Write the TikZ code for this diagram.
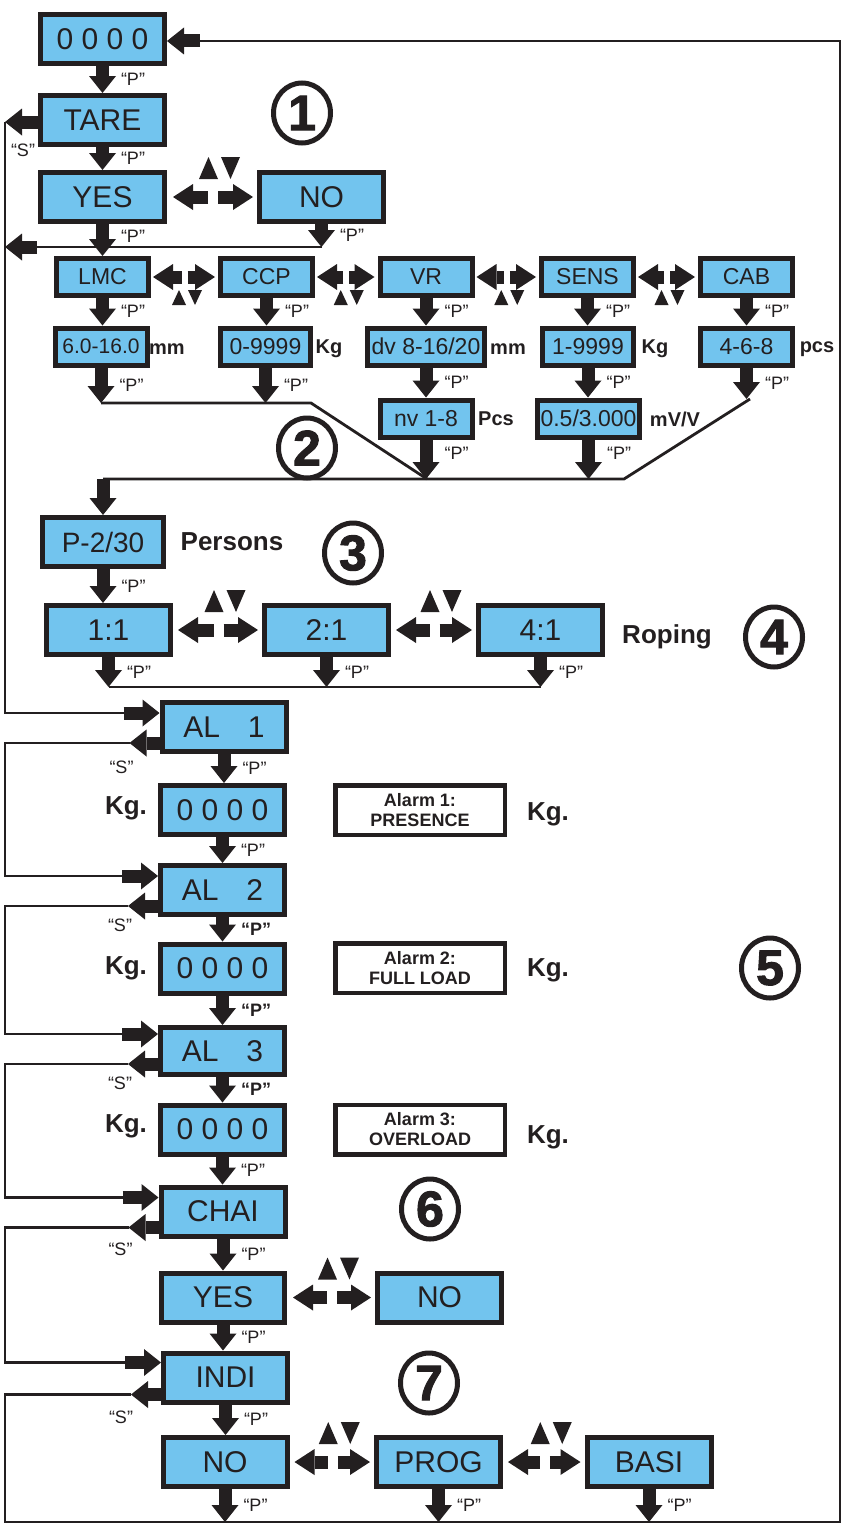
\documentclass[tikz,border=0pt]{standalone}
\usepackage{fontspec}
\setmainfont{Liberation Sans}
\newfontfamily\numfont[BoldFeatures={FakeBold=2}]{Liberation Sans}
\usepackage{tikz}
\usetikzlibrary{positioning}
\usetikzlibrary{shapes.geometric}
\usetikzlibrary{arrows.meta}
\usetikzlibrary{calc}
\definecolor{ink}{RGB}{35,31,32}
\definecolor{lcdblue}{RGB}{114,196,238}

\begin{document}
\begin{tikzpicture}[
        x = 1pt,
        y = -1pt,
        lcd/.style = {
            draw = ink,
            line width = 5pt,
            fill = lcdblue,
            text = ink,
            font = \fontsize{30}{30}\selectfont,
            minimum width = #1,
            minimum height = 49pt,
            inner sep = 0pt
        },
        lcd/.default = 124pt,
        lcdsmall/.style = {
            lcd = #1,
            minimum height = 37pt,
            font = \fontsize{23}{23}\selectfont
        },
        lcdsmall/.default = 92pt,
        alarm/.style = {
            draw = ink,
            line width = 4.5pt,
            fill = white,
            text = ink,
            align = center,
            font = \bfseries\fontsize{18}{20}\selectfont,
            minimum width = 169.5pt,
            minimum height = 49.5pt,
            inner sep = 0pt
        },
        unitlab/.style = {text = ink, font = \bfseries\fontsize{20}{20}\selectfont},
        boldlab/.style = {text = ink, font = \bfseries\fontsize{26}{26}\selectfont},
        plab/.style = {text = ink, font = \fontsize{18}{18}\selectfont, anchor = west, xshift = 12pt, inner sep = 0pt},
        slab/.style = {text = ink, font = \fontsize{18}{18}\selectfont, inner sep = 0pt},
        num/.style = {
            draw = ink,
            ellipse,
            line width = 5pt,
            minimum width = 57pt,
            minimum height = 60pt,
            inner sep = 0pt,
            text = ink,
            font = \numfont\bfseries\fontsize{50}{50}\selectfont
        },
        blk/.style = {draw = ink, line width = 13pt, -{Triangle[width = 27pt, length = 17pt, line width = 0pt]}},
        swp/.style = {blk, -{Triangle[width = 26pt, length = 20pt, line width = 0pt]}},
        wire/.style = {draw = ink, line width = 2.8pt},
        updown/.pic = {
            \fill[ink] (-13,-18) -- (-3.5,-40) -- (6,-18) -- cycle;
            \fill[ink] (9,-40) -- (28,-40) -- (18.5,-18) -- cycle;
        },
        updownlow/.pic = {
            \fill[ink] (-12.5,28) -- (-5.5,13) -- (1.5,28) -- cycle;
            \fill[ink] (3.5,13) -- (17.5,13) -- (10.5,28) -- cycle;
        }
        ]
        \useasboundingbox (0,0) rectangle (843,1528);
%
% 1: tare
        \node[lcd] (zero) at (102.5,39.5) {0 0 0 0};
        \node[lcd] (tare) at (102.5,120) {TARE};
        \node[lcd] (yes1) at (102.5,197) {YES};
        \node[lcd, right=90pt of yes1] (no1) {NO};
        \node[num] (n1) at (302,113) {1};
%
% 2: lmc ... cab
        \node[lcdsmall] (lmc) at (102.5,277) {LMC};
        \node[lcdsmall] (ccp) at (266.5,277) {CCP};
        \node[lcdsmall] (vr) at (426,277) {VR};
        \node[lcdsmall] (sens) at (587.5,277) {SENS};
        \node[lcdsmall] (cab) at (746.5,277) {CAB};
%
        \node[lcdsmall, font=\fontsize{21}{21}\selectfont] (v1) at (101,346.5) {6.0-16.0};
        \node[lcdsmall=90pt] (v2) at (265.5,346.5) {0-9999};
        \node[lcdsmall=117pt] (v3) at (426,346.5) {dv 8-16/20};
        \node[lcdsmall=91pt] (v4) at (588,346.5) {1-9999};
        \node[lcdsmall] (v5) at (746.5,346.5) {4-6-8};
        \node[lcdsmall] (nv) at (426,418.5) {nv 1-8};
        \node[lcdsmall=102pt] (mv) at (588.5,418.5) {0.5/3.000};
%
        \node[unitlab] (u1) at (167,349) {mm};
        \node[unitlab] (u2) at (329,349) {Kg};
        \node[unitlab] (u3) at (508,349) {mm};
        \node[unitlab] (u4) at (655,349) {Kg};
        \node[unitlab] (u5) at (817,349) {pcs};
        \node[unitlab] (u6) at (496,419) {Pcs};
        \node[unitlab] (u7) at (675,419) {mV/V};
        \node[num] (n2) at (307,448) {2};
%
% 3 and 4: persons, roping
        \node[lcd=121pt, font=\fontsize{28}{28}\selectfont] (pers) at (103,542) {P-2/30};
        \node[boldlab] (perslab) at (232,542) {Persons};
        \node[num] (n3) at (353,553) {3};
        \node[lcd] (r11) at (108.5,630) {1:1};
        \node[lcd, right=89pt of r11] (r21) {2:1};
        \node[lcd, right=85pt of r21] (r41) {4:1};
        \node[boldlab] (roplab) at (667,637) {Roping};
        \node[num] (n4) at (774,637) {4};
%
% 5: alarms
        \node[lcd] (al1) at (224,727) {AL\hspace{28pt}1};
        \node[lcd] (kg1) at (222.5,810) {0 0 0 0};
        \node[lcd] (al2) at (222.5,890) {AL\hspace{28pt}2};
        \node[lcd] (kg2) at (222.5,968.5) {0 0 0 0};
        \node[lcd, minimum height=47pt] (al3) at (222.5,1051) {AL\hspace{28pt}3};
        \node[lcd] (kg3) at (222.5,1129.5) {0 0 0 0};
%
        \node[alarm] (am1) at (420,810) {Alarm 1:\\PRESENCE};
        \node[alarm] (am2) at (420,968) {Alarm 2:\\FULL LOAD};
        \node[alarm] (am3) at (420,1129.5) {Alarm 3:\\OVERLOAD};
%
        \node[boldlab] (kgl1) at (126,808) {Kg.};
        \node[boldlab] (kgl2) at (126,968) {Kg.};
        \node[boldlab] (kgl3) at (126,1126) {Kg.};
        \node[boldlab] (kgr1) at (548,814) {Kg.};
        \node[boldlab] (kgr2) at (548,970) {Kg.};
        \node[boldlab] (kgr3) at (548,1137) {Kg.};
        \node[num] (n5) at (770,968) {5};
%
% 6: chain
        \node[lcd] (chai) at (223,1211.5) {CHAI};
        \node[num] (n6) at (430,1209) {6};
        \node[lcd=123pt] (yes2) at (223,1297.5) {YES};
        \node[lcd, right=88pt of yes2] (no2) {NO};
%
% 7: indicator
        \node[lcd] (indi) at (225.5,1377.5) {INDI};
        \node[num] (n7) at (429,1383) {7};
        \node[lcd] (no3) at (225,1462) {NO};
        \node[lcd, right=84.5pt of no3] (prog) {PROG};
        \node[lcd, right=81.5pt of prog] (basi) {BASI};
%
        \coordinate (ne) at (840,41);
        \coordinate (se) at (840,1522);
        \coordinate (sw) at (5,1522);
        \coordinate (top) at (200,41);
        \coordinate (j1) at (322,247);
        \coordinate (k1) at (311,403);
        \coordinate (k2) at (427,479);
        \coordinate (k3) at (624,479);
        \coordinate (k4) at (750,399);
        \coordinate (k5) at (108,687);
%
% "P" arrows
        \draw[blk] (zero.south) -- (zero.south |- tare.north) node[plab, midway] (p1) {“P”};
        \draw[blk] (tare.south) -- (tare.south |- yes1.north) node[plab, midway] (p2) {“P”};
        \draw[blk] (yes1.south) -- (yes1.south |- lmc.north) node[plab, pos=0.4] (p3) {“P”};
        \draw[blk] (no1.south) -- (no1.south |- j1) node[plab, midway] (p4) {“P”};
%
        \draw[blk] (lmc.south) -- (lmc.south |- v1.north) node[plab, midway] (p5) {“P”};
        \draw[blk] (ccp.south) -- (ccp.south |- v2.north) node[plab, midway] (p6) {“P”};
        \draw[blk] (vr.south) -- (vr.south |- v3.north) node[plab, midway] (p7) {“P”};
        \draw[blk] (sens.south) -- (sens.south |- v4.north) node[plab, midway] (p8) {“P”};
        \draw[blk] (cab.south) -- (cab.south |- v5.north) node[plab, midway] (p9) {“P”};
%
        \draw[blk] (v1.south) -- (v1.south |- k1) node[plab, midway] (p10) {“P”};
        \draw[blk] (v2.south) -- (v2.south |- k1) node[plab, midway] (p11) {“P”};
        \draw[blk] (v3.south) -- (v3.south |- nv.north) node[plab, midway] (p12) {“P”};
        \draw[blk] (v4.south) -- (v4.south |- mv.north) node[plab, midway] (p13) {“P”};
        \draw[blk] (v5.south) -- (v5.south |- k4) node[plab, midway] (p14) {“P”};
        \draw[blk] (nv.south) -- (nv.south |- k2) node[plab, pos=0.35] (p15) {“P”};
        \draw[blk] (mv.south) -- (mv.south |- k2) node[plab, pos=0.35] (p16) {“P”};
%
        \draw[wire] (v1.south |- k1) -- (k1) -- (k2);
        \draw[wire] (k4) -- (k3) -- (pers.north |- k3);
        \draw[blk] (pers.north |- k3) -- (pers.north);
%
        \draw[blk] (pers.south) -- (pers.south |- r11.north) node[plab, midway] (p17) {“P”};
        \draw[blk] (r11.south) -- (r11.south |- k5) node[plab, midway] (p18) {“P”};
        \draw[blk] (r21.south) -- (r21.south |- k5) node[plab, midway] (p19) {“P”};
        \draw[blk] (r41.south) -- (r41.south |- k5) node[plab, midway] (p20) {“P”};
        \draw[wire] (r11.south |- k5) -- (r41.south |- k5);
%
        \draw[blk] (al1.south) -- (al1.south |- kg1.north) node[plab, midway] (p21) {“P”};
        \draw[blk] (kg1.south) -- (kg1.south |- al2.north) node[plab, midway] (p22) {“P”};
        \draw[blk] (al2.south) -- (al2.south |- kg2.north) node[plab, midway, font=\bfseries\fontsize{18}{18}\selectfont] (p23) {“P”};
        \draw[blk] (kg2.south) -- (kg2.south |- al3.north) node[plab, midway, font=\bfseries\fontsize{18}{18}\selectfont] (p24) {“P”};
        \draw[blk] (al3.south) -- (al3.south |- kg3.north) node[plab, midway, font=\bfseries\fontsize{18}{18}\selectfont] (p25) {“P”};
        \draw[blk] (kg3.south) -- (kg3.south |- chai.north) node[plab, midway] (p26) {“P”};
        \draw[blk] (chai.south) -- (chai.south |- yes2.north) node[plab, midway] (p27) {“P”};
        \draw[blk] (yes2.south) -- (yes2.south |- indi.north) node[plab, midway] (p28) {“P”};
        \draw[blk] (indi.south) -- (indi.south |- no3.north) node[plab, midway] (p29) {“P”};
        \draw[blk] (no3.south) -- (no3.south |- sw) node[plab, midway] (p30) {“P”};
        \draw[blk] (prog.south) -- (prog.south |- sw) node[plab, midway] (p31) {“P”};
        \draw[blk] (basi.south) -- (basi.south |- sw) node[plab, midway] (p32) {“P”};
%
% up / down keys
        \coordinate (m1) at ($(yes1.east)!0.5!(no1.west)$);
        \draw[swp] ([xshift=-4pt]m1) -- ([xshift=6pt]yes1.east);
        \draw[swp] ([xshift=6pt]m1) -- ([xshift=-4pt]no1.west);
        \pic at (m1) {updown};
%
        \coordinate (m2) at ($(lmc.east)!0.5!(ccp.west)$);
        \draw[swp] ([xshift=-3pt]m2) -- ([xshift=2pt]lmc.east);
        \draw[swp] ([xshift=3pt]m2) -- ([xshift=-3pt]ccp.west);
        \pic at (m2) {updownlow};
        \coordinate (m3) at ($(ccp.east)!0.5!(vr.west)$);
        \draw[swp] ([xshift=-3pt]m3) -- ([xshift=2pt]ccp.east);
        \draw[swp] ([xshift=3pt]m3) -- ([xshift=-3pt]vr.west);
        \pic at (m3) {updownlow};
        \coordinate (m4) at ($(vr.east)!0.5!(sens.west)$);
        \draw[swp] ([xshift=-3pt]m4) -- ([xshift=2pt]vr.east);
        \draw[swp] ([xshift=3pt]m4) -- ([xshift=-3pt]sens.west);
        \pic at (m4) {updownlow};
        \coordinate (m5) at ($(sens.east)!0.5!(cab.west)$);
        \draw[swp] ([xshift=-3pt]m5) -- ([xshift=2pt]sens.east);
        \draw[swp] ([xshift=3pt]m5) -- ([xshift=-3pt]cab.west);
        \pic at (m5) {updownlow};
%
        \coordinate (m6) at ($(r11.east)!0.5!(r21.west)$);
        \draw[swp] ([xshift=-4pt]m6) -- ([xshift=5pt]r11.east);
        \draw[swp] ([xshift=6pt]m6) -- ([xshift=-4pt]r21.west);
        \pic at (m6) {updown};
        \coordinate (m7) at ($(r21.east)!0.5!(r41.west)$);
        \draw[swp] ([xshift=-4pt]m7) -- ([xshift=5pt]r21.east);
        \draw[swp] ([xshift=6pt]m7) -- ([xshift=-4pt]r41.west);
        \pic at (m7) {updown};
%
        \coordinate (m8) at ($(yes2.east)!0.5!(no2.west)$);
        \draw[swp] ([xshift=-4pt]m8) -- ([xshift=6pt]yes2.east);
        \draw[swp] ([xshift=6pt]m8) -- ([xshift=-4pt]no2.west);
        \pic at (m8) {updown};
%
        \coordinate (m9) at ($(no3.east)!0.5!(prog.west)$);
        \draw[swp] ([xshift=-4pt]m9) -- ([xshift=5pt]no3.east);
        \draw[swp] ([xshift=6pt]m9) -- ([xshift=-4pt]prog.west);
        \pic at (m9) {updown};
        \coordinate (m10) at ($(prog.east)!0.5!(basi.west)$);
        \draw[swp] ([xshift=-4pt]m10) -- ([xshift=5pt]prog.east);
        \draw[swp] ([xshift=6pt]m10) -- ([xshift=-4pt]basi.west);
        \pic at (m10) {updown};
%
% "S" loops on the left
        \draw[blk] ([yshift=-2pt]tare.west) -- ++(-33,0) coordinate (ts);
        \node[slab] (s0) at ([xshift=-15pt,yshift=-30pt]tare.west) {“S”};
        \draw[wire] (j1) -- ($(ts |- j1)+(30,0)$);
        \draw[blk] ($(ts |- j1)+(32,0)$) -- (ts |- j1);
        \coordinate (in1) at ([xshift=-36pt,yshift=14pt]al1.west);
        \draw[wire] (ts) -- (ts |- in1) -- (in1);
        \draw[blk] (in1) -- ([yshift=14pt]al1.west);
%
        \draw[blk] ([yshift=-16pt]al1.west) -- ++(-30,0) coordinate (o1);
        \node[slab] (s1) at ([xshift=-38pt,yshift=-40pt]al1.west) {“S”};
        \coordinate (in2) at ([xshift=-36pt,yshift=14pt]al2.west);
        \draw[wire] (o1) -- (ts |- o1) -- (ts |- in2) -- (in2);
        \draw[blk] (in2) -- ([yshift=14pt]al2.west);
%
        \draw[blk] ([yshift=-16pt]al2.west) -- ++(-30,0) coordinate (o2);
        \node[slab] (s2) at ([xshift=-38pt,yshift=-35pt]al2.west) {“S”};
        \coordinate (in3) at ([xshift=-36pt,yshift=17pt]al3.west);
        \draw[wire] (o2) -- (ts |- o2) -- (ts |- in3) -- (in3);
        \draw[blk] (in3) -- ([yshift=17pt]al3.west);
%
        \draw[blk] ([yshift=-13pt]al3.west) -- ++(-30,0) coordinate (o3);
        \node[slab] (s3) at ([xshift=-38pt,yshift=-32pt]al3.west) {“S”};
        \coordinate (in4) at ([xshift=-36pt,yshift=14pt]chai.west);
        \draw[wire] (o3) -- (ts |- o3) -- (ts |- in4) -- (in4);
        \draw[blk] (in4) -- ([yshift=14pt]chai.west);
%
        \draw[blk] ([yshift=-16pt]chai.west) -- ++(-30,0) coordinate (o4);
        \node[slab] (s4) at ([xshift=-38pt,yshift=-38pt]chai.west) {“S”};
        \coordinate (in5) at ([xshift=-36pt,yshift=15pt]indi.west);
        \draw[wire] (o4) -- (ts |- o4) -- (ts |- in5) -- (in5);
        \draw[blk] (in5) -- ([yshift=15pt]indi.west);
%
        \draw[blk] ([yshift=-17pt]indi.west) -- ++(-30,0) coordinate (o5);
        \node[slab] (s5) at ([xshift=-40pt,yshift=-40pt]indi.west) {“S”};
        \draw[wire] (o5) -- (ts |- o5) -- (sw) -- (se) -- (ne) -- (top);
        \draw[blk] (top) -- (zero.east |- top);
%
    \end{tikzpicture}
\end{document}
